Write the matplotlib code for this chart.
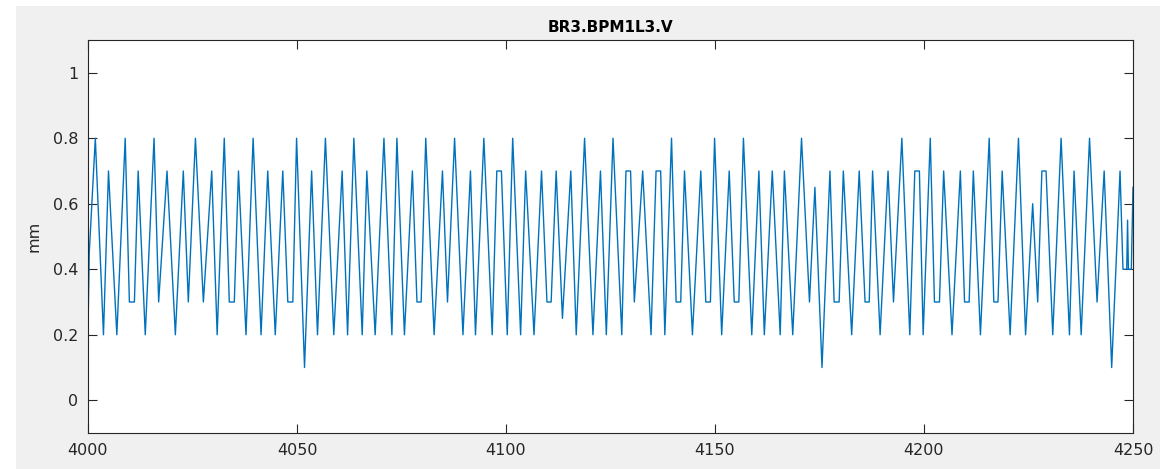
import matplotlib
matplotlib.use("Agg")
import matplotlib.pyplot as plt
from matplotlib.patches import Rectangle

# turning points of the BPM trace (turn number, mm)
turn = [4000.0, 4000.3, 4001.75, 4003.7, 4004.9, 4006.9, 4008.9, 4009.9, 4011.1, 4012.0,
        4013.7, 4015.8, 4016.9, 4018.9, 4020.9, 4022.8, 4024.0, 4025.7, 4027.6, 4029.6,
        4030.9, 4032.6, 4033.8, 4035.0, 4036.0, 4037.8, 4039.5, 4041.4, 4043.0, 4044.8,
        4046.6, 4047.8, 4049.0, 4049.9, 4051.8, 4053.5, 4054.9, 4056.8, 4058.8, 4060.8,
        4062.1, 4063.6, 4065.6, 4066.7, 4068.7, 4070.8, 4072.7, 4073.9, 4075.7, 4077.6,
        4078.7, 4079.7, 4080.8, 4082.8, 4084.8, 4086.0, 4087.7, 4089.7, 4091.5, 4092.7,
        4094.7, 4096.7, 4097.8, 4098.9, 4100.3, 4101.6, 4103.5, 4104.7, 4106.7, 4108.5,
        4109.8, 4110.8, 4112.0, 4113.5, 4115.5, 4116.8, 4118.8, 4120.8, 4122.6, 4124.0,
        4125.6, 4127.7, 4128.7, 4129.8, 4130.7, 4132.7, 4134.7, 4135.9, 4137.0, 4138.0,
        4139.6, 4140.7, 4141.8, 4142.7, 4144.6, 4146.6, 4147.8, 4148.9, 4149.9, 4151.6,
        4153.4, 4154.6, 4155.7, 4156.8, 4158.8, 4160.5, 4161.8, 4163.7, 4165.6, 4166.6,
        4168.6, 4170.7, 4172.6, 4173.9, 4175.6, 4177.5, 4178.5, 4179.7, 4180.7, 4182.7,
        4184.5, 4185.9, 4186.9, 4187.7, 4189.5, 4191.4, 4192.7, 4194.7, 4196.6, 4197.8,
        4198.9, 4199.8, 4201.5, 4202.5, 4203.7, 4204.7, 4206.7, 4208.7, 4209.7, 4210.8,
        4211.8, 4213.5, 4215.6, 4216.7, 4217.7, 4218.7, 4220.6, 4222.6, 4224.3, 4226.0,
        4227.2, 4228.2, 4229.2, 4230.8, 4232.8, 4234.8, 4235.9, 4237.6, 4239.6, 4241.4,
        4243.1, 4244.9, 4246.9, 4247.6, 4248.5, 4248.7, 4248.9, 4249.6, 4250.0]
pos_mm = [0.21, 0.45, 0.8, 0.2, 0.7, 0.2, 0.8, 0.3, 0.3, 0.7,
          0.2, 0.8, 0.3, 0.7, 0.2, 0.7, 0.3, 0.8, 0.3, 0.7,
          0.2, 0.8, 0.3, 0.3, 0.7, 0.2, 0.8, 0.2, 0.7, 0.2,
          0.7, 0.3, 0.3, 0.8, 0.1, 0.7, 0.2, 0.8, 0.2, 0.7,
          0.2, 0.8, 0.2, 0.7, 0.2, 0.8, 0.2, 0.8, 0.2, 0.7,
          0.3, 0.3, 0.8, 0.2, 0.7, 0.3, 0.8, 0.2, 0.7, 0.2,
          0.8, 0.2, 0.7, 0.7, 0.2, 0.8, 0.2, 0.7, 0.2, 0.7,
          0.3, 0.3, 0.7, 0.25, 0.7, 0.2, 0.8, 0.2, 0.7, 0.2,
          0.8, 0.2, 0.7, 0.7, 0.3, 0.7, 0.2, 0.7, 0.7, 0.2,
          0.8, 0.3, 0.3, 0.7, 0.2, 0.7, 0.3, 0.3, 0.8, 0.2,
          0.7, 0.3, 0.3, 0.8, 0.2, 0.7, 0.2, 0.7, 0.2, 0.7,
          0.2, 0.8, 0.3, 0.65, 0.1, 0.7, 0.3, 0.3, 0.7, 0.2,
          0.7, 0.3, 0.3, 0.7, 0.2, 0.7, 0.3, 0.8, 0.2, 0.7,
          0.7, 0.2, 0.8, 0.3, 0.3, 0.7, 0.2, 0.7, 0.3, 0.3,
          0.7, 0.2, 0.8, 0.3, 0.3, 0.7, 0.2, 0.8, 0.2, 0.6,
          0.3, 0.7, 0.7, 0.2, 0.8, 0.2, 0.7, 0.2, 0.8, 0.3,
          0.7, 0.1, 0.7, 0.4, 0.4, 0.55, 0.4, 0.4, 0.65]

x_ticks = [4000, 4050, 4100, 4150, 4200, 4250]
y_ticks = [0, 0.2, 0.4, 0.6, 0.8, 1]
y_ticklabels = ["0", "0.2", "0.4", "0.6", "0.8", "1"]

W, H = 1176, 469
fig = plt.figure(figsize=(W / 100, H / 100), dpi=100, facecolor="white")
# matlab style grey window behind the axes
bg = Rectangle((16 / W, 0), (1160 - 16) / W, (H - 6) / H,
               transform=fig.transFigure, facecolor="#f0f0f0",
               edgecolor="none", zorder=-10)
fig.patches.append(bg)

ax = fig.add_axes([88 / W, 1 - 433 / H, (1133 - 88) / W, (433 - 40) / H])
ax.set_zorder(1)
ax.plot(turn, pos_mm, color="#0072BD", lw=1.0)

ax.set_xlim(4000, 4250)
ax.set_ylim(-0.1, 1.1)
ax.set_xticks(x_ticks)
ax.set_yticks(y_ticks)
ax.set_yticklabels(y_ticklabels)
ax.tick_params(direction="in", top=True, right=True, length=6.5, width=0.8,
               colors="#262626", labelsize=11.5, pad=7)
for sp in ax.spines.values():
    sp.set_color("#262626")
    sp.set_linewidth(0.8)

ax.set_ylabel("mm", fontsize=11.5, color="#262626", labelpad=8)
ax.set_title("BR3.BPM1L3.V", fontsize=11, fontweight="bold", color="black", pad=6)

fig.savefig("out.png", dpi=100, facecolor=fig.get_facecolor())
